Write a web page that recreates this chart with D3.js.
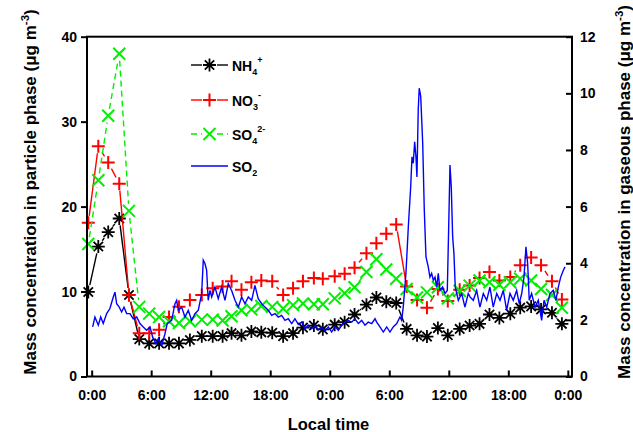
<!DOCTYPE html>
<html>
<head>
<meta charset="utf-8">
<script src="https://cdn.jsdelivr.net/npm/d3@7"></script>
<style>
  body { margin: 0; background: #fff; }
  svg { display: block; font-family: "Liberation Sans", Arial, sans-serif; font-weight: bold; }
</style>
</head>
<body>
<svg width="633" height="432"></svg>
<script>
// sampling times (hours from first midnight) of the particle data
const times = [-0.34,0.67,1.67,2.78,3.76,4.8,5.8,6.8,7.8,8.8,9.9,11.1,12.2,13.2,14.1,15.1,16.1,17.1,18.2,19.3,
  20.3,21.3,22.4,23.3,24.5,25.5,26.5,27.7,28.7,29.7,30.7,31.75,32.8,33.8,34.9,35.9,37.1,38.1,39.1,40.1,
  41.1,42.2,43.2,44.3,45.3,46.4,47.4];

const nh4 = [9.95,15.3,17.0,18.6,9.6,4.4,3.9,3.9,3.9,3.9,4.3,4.75,4.75,4.75,5.1,4.85,5.3,5.2,5.15,4.75,
  5.1,5.75,6.0,5.55,6.1,6.4,7.3,8.45,9.3,8.8,8.65,5.6,4.85,4.7,5.7,4.85,5.6,6.0,6.2,7.3,
  6.9,7.4,8.1,8.25,7.9,7.5,6.2];

const no3 = [18.1,27.1,25.2,22.7,9.6,5.1,5.1,5.5,7.0,8.2,9.0,9.6,10.4,10.6,11.2,10.2,11.1,11.3,11.2,9.6,
  10.4,11.2,11.6,11.5,11.8,12.1,12.8,14.5,15.7,16.8,17.9,10.6,9.0,8.1,10.3,8.9,10.2,10.7,11.6,12.3,
  11.3,11.7,13.1,14.0,13.1,11.2,9.05];

const so4 = [15.6,23.1,30.7,38.0,19.5,8.2,7.4,7.0,6.5,6.3,6.5,6.7,6.7,6.6,7.1,7.8,7.9,8.3,8.2,8.0,
  8.4,8.6,8.5,8.5,9.2,9.8,10.5,12.3,13.8,12.6,11.5,10.3,9.3,9.9,10.5,9.2,10.1,10.7,11.3,11.1,
  10.8,11.1,11.5,11.3,10.3,9.6,8.1];

// SO2 (gas phase, right axis)
const so2Time = [0.10,0.33,0.67,0.91,1.17,1.51,1.84,2.18,2.35,2.52,2.78,3.02,3.26,3.53,3.86,4.19,4.54,4.87,5.20,5.54,
  5.88,6.15,6.48,6.71,7.06,7.39,7.62,8.06,8.40,8.57,8.73,9.07,9.41,9.74,10.08,10.41,10.75,11.09,11.25,11.42,
  11.59,11.75,11.93,12.10,12.43,12.76,13.10,13.44,13.77,14.11,14.45,14.78,15.12,15.45,15.79,16.13,16.46,16.79,17.14,17.47,
  17.80,18.15,18.48,18.81,19.15,19.49,19.82,20.16,20.49,20.83,21.17,21.50,21.83,22.18,22.51,22.84,23.19,23.52,23.85,24.19,
  24.53,24.86,25.20,25.53,25.87,26.21,26.54,26.88,27.22,27.55,27.88,28.23,28.56,28.73,29.06,29.40,29.74,30.07,30.40,30.75,
  31.08,31.25,31.41,31.68,31.92,32.16,32.29,32.42,32.56,32.69,32.79,32.92,33.02,33.17,33.37,33.53,33.70,33.93,34.10,34.27,
  34.44,34.61,34.78,34.94,35.11,35.38,35.62,35.85,35.99,36.12,36.25,36.39,36.52,36.65,36.96,37.30,37.63,37.96,38.14,38.47,
  38.81,39.14,39.48,39.82,40.15,40.48,40.83,41.16,41.49,41.83,42.17,42.50,42.84,43.10,43.35,43.58,43.78,43.95,44.11,44.35,
  44.69,45.02,45.36,45.60,45.87,46.20,46.53,46.80,47.04,47.28,47.55,47.72];

const so2 = [1.75,2.10,1.81,2.10,1.87,2.22,2.40,2.81,2.98,2.57,2.45,2.28,2.45,2.22,2.22,2.04,2.10,1.87,1.75,1.63,
  1.75,1.39,1.16,1.33,1.10,1.51,1.87,1.98,2.57,2.69,2.34,2.45,2.10,2.34,1.98,2.22,2.34,2.93,4.11,3.99,
  3.75,2.69,3.04,2.81,3.16,2.75,3.16,2.69,3.28,3.04,2.69,2.45,2.81,2.57,2.81,2.69,3.22,2.75,2.57,2.45,
  2.34,2.16,2.22,2.10,2.16,1.98,2.04,1.87,2.04,1.84,1.92,1.69,1.81,1.69,1.81,1.65,1.75,1.60,1.75,1.57,
  1.77,1.63,1.81,1.92,1.98,1.92,2.04,1.87,1.98,1.81,1.92,1.87,2.04,1.92,1.75,1.57,1.75,1.57,1.75,1.87,
  2.10,1.98,2.45,3.64,5.28,6.70,7.76,7.53,8.29,7.76,7.05,9.42,10.18,9.89,8.24,5.88,4.22,3.87,3.51,3.64,
  3.40,3.51,3.16,3.64,3.04,3.16,2.93,3.04,5.28,7.47,6.70,4.93,4.34,3.16,2.69,2.93,2.45,2.93,2.81,2.69,
  3.04,2.45,2.93,2.69,3.16,2.45,2.93,2.69,3.04,2.34,2.93,2.69,3.04,2.57,2.93,3.51,4.58,3.99,2.69,2.93,
  2.45,2.69,1.98,2.69,2.45,2.93,3.04,2.69,3.16,3.51,3.75,3.87];

const xTicks = [0, 6, 12, 18, 24, 30, 36, 42, 48];
const xTickLabels = ['0:00','6:00','12:00','18:00','0:00','6:00','12:00','18:00','0:00'];
const leftTicks = [0, 10, 20, 30, 40];
const rightTicks = [0, 2, 4, 6, 8, 10, 12];

const svg = d3.select('svg');
svg.append('rect').attr('width', 633).attr('height', 432).attr('fill', '#fff');

const plotLeft = 87, plotRight = 572, plotTop = 36.7, plotBottom = 376.5;

const x = d3.scaleLinear().domain([-0.47, 48.42]).range([plotLeft, plotRight]);
const yL = d3.scaleLinear().domain([0, 40]).range([plotBottom, plotTop]);
const yR = d3.scaleLinear().domain([0, 12]).range([plotBottom, plotTop]);

// marker shapes
const star = r => {
  const d = r * 0.72;
  return `M${-r},0L${r},0M0,${-r}L0,${r}M${-d},${-d}L${d},${d}M${-d},${d}L${d},${-d}`;
};
const plus = r => `M${-r},0L${r},0M0,${-r}L0,${r}`;
const cross = r => `M${-r},${-r}L${r},${r}M${-r},${r}L${r},${-r}`;

const series = [
  {name: 'nh4', values: nh4, color: '#000', dash: null, marker: star(6.5), mw: 1.8},
  {name: 'no3', values: no3, color: '#ff0000', dash: null, marker: plus(6.5), mw: 2},
  {name: 'so4', values: so4, color: '#00ee00', dash: '6,4', marker: cross(6), mw: 2}
];

const plot = svg.append('g');
const gap = 7; // line stops short of each symbol

series.forEach(s => {
  const pts = s.values.map((v, i) => [x(times[i]), yL(v)]);
  const segs = [];
  for (let i = 1; i < pts.length; i++) {
    const [x0, y0] = pts[i - 1], [x1, y1] = pts[i];
    const len = Math.hypot(x1 - x0, y1 - y0);
    if (len <= 2 * gap) continue;
    const ux = (x1 - x0) / len, uy = (y1 - y0) / len;
    segs.push([[x0 + ux * gap, y0 + uy * gap], [x1 - ux * gap, y1 - uy * gap]]);
  }
  plot.selectAll('.l-' + s.name)
    .data(segs)
    .join('path')
    .attr('class', 'l-' + s.name)
    .attr('d', d3.line())
    .attr('fill', 'none')
    .attr('stroke', s.color)
    .attr('stroke-width', 1.4)
    .attr('stroke-dasharray', s.dash);
  plot.selectAll('.m-' + s.name)
    .data(s.values)
    .join('path')
    .attr('class', 'm-' + s.name)
    .attr('transform', (d, i) => `translate(${x(times[i])},${yL(d)})`)
    .attr('d', s.marker)
    .attr('fill', 'none')
    .attr('stroke', s.color)
    .attr('stroke-width', s.mw);
});

const so2Line = d3.line().x((d, i) => x(so2Time[i])).y(d => yR(d));
plot.append('path')
  .attr('d', so2Line(so2))
  .attr('fill', 'none')
  .attr('stroke', '#0000ff')
  .attr('stroke-width', 1.4);

// frame + axes
svg.append('rect')
  .attr('x', plotLeft).attr('y', plotTop)
  .attr('width', plotRight - plotLeft).attr('height', plotBottom - plotTop)
  .attr('fill', 'none').attr('stroke', '#000').attr('stroke-width', 2);

const xAxis = svg.append('g')
  .attr('transform', `translate(0,${plotBottom})`)
  .call(d3.axisBottom(x).tickValues(xTicks)
    .tickFormat((d, i) => xTickLabels[i]).tickSize(-6).tickPadding(14));

const yAxisL = svg.append('g')
  .attr('transform', `translate(${plotLeft},0)`)
  .call(d3.axisLeft(yL).tickValues(leftTicks).tickSize(6).tickPadding(4));

const yAxisR = svg.append('g')
  .attr('transform', `translate(${plotRight},0)`)
  .call(d3.axisRight(yR).tickValues(rightTicks).tickSize(-6).tickPadding(8));

[xAxis, yAxisL, yAxisR].forEach(a => {
  a.select('.domain').remove();
  a.selectAll('line').attr('stroke', '#000').attr('stroke-width', 2);
  a.selectAll('text').attr('font-size', 14).attr('font-weight', 'bold')
    .attr('font-family', '"Liberation Sans", Arial, sans-serif').attr('fill', '#000');
});

// axis titles
svg.append('text')
  .attr('x', (plotLeft + plotRight) / 2 - 1).attr('y', 430)
  .attr('text-anchor', 'middle').attr('font-size', 16.5)
  .text('Local time');

const lt = svg.append('text')
  .attr('transform', 'translate(36,192) rotate(-90)')
  .attr('text-anchor', 'middle').attr('font-size', 17);
lt.append('tspan').text('Mass concentration in particle phase (\u03bcg m');
lt.append('tspan').attr('dy', -7).attr('font-size', 11.5).text('-3');
lt.append('tspan').attr('dy', 7).text(')');

const rt = svg.append('text')
  .attr('transform', 'translate(630,192) rotate(-90)')
  .attr('text-anchor', 'middle').attr('font-size', 17);
rt.append('tspan').text('Mass concentration in gaseous phase (\u03bcg m');
rt.append('tspan').attr('dy', -7).attr('font-size', 11.5).text('-3');
rt.append('tspan').attr('dy', 7).text(')');

// legend
const legendItems = [
  {main: 'NH', sub: '4', sup: '+', color: '#000', dash: null, marker: star(6.5), mw: 1.8},
  {main: 'NO', sub: '3', sup: '-', color: '#ff0000', dash: null, marker: plus(6.5), mw: 2},
  {main: 'SO', sub: '4', sup: '2-', color: '#00ee00', dash: '6,4', marker: cross(6), mw: 2},
  {main: 'SO', sub: '2', sup: '', color: '#0000ff', dash: null, marker: null, mw: 0}
];
const legendY = [65, 100, 134, 166];

const legend = svg.append('g');
legendItems.forEach((it, i) => {
  const g = legend.append('g').attr('transform', `translate(0,${legendY[i]})`);
  if (it.marker) {
    g.append('line').attr('x1', 191).attr('x2', 202)
      .attr('stroke', it.color).attr('stroke-width', 1.4).attr('stroke-dasharray', it.dash);
    g.append('line').attr('x1', 217).attr('x2', 228)
      .attr('stroke', it.color).attr('stroke-width', 1.4).attr('stroke-dasharray', it.dash);
    g.append('path').attr('transform', 'translate(209.5,0)').attr('d', it.marker)
      .attr('fill', 'none').attr('stroke', it.color).attr('stroke-width', it.mw);
  } else {
    g.append('line').attr('x1', 191).attr('x2', 228)
      .attr('stroke', it.color).attr('stroke-width', 1.4);
  }
  const t = g.append('text').attr('x', 232).attr('y', 6).attr('font-size', 14);
  t.append('tspan').text(it.main);
  t.append('tspan').attr('dy', 4).attr('font-size', 9).text(it.sub);
  if (it.sup) t.append('tspan').attr('dy', -12).attr('font-size', 9).text(it.sup);
});
</script>
</body>
</html>
